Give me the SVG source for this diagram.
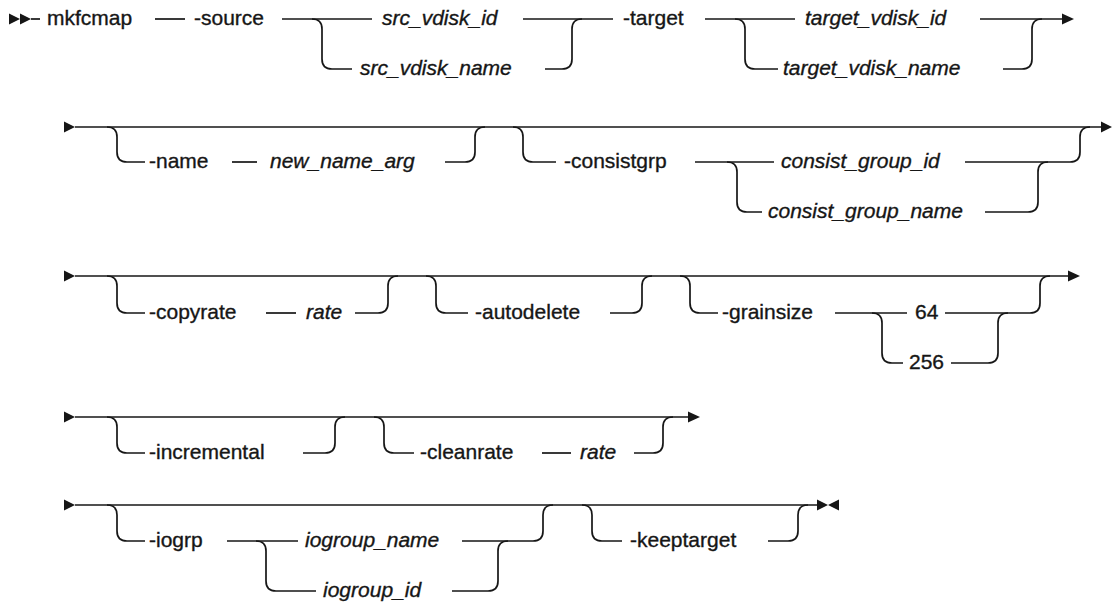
<svg xmlns="http://www.w3.org/2000/svg" width="1112" height="611" viewBox="0 0 1112 611">
<style>
  .c { fill: none; stroke: #161616; stroke-width: 1.7; }
  .a { fill: #161616; stroke: none; }
  text { font-family: "Liberation Sans", Arial, sans-serif; font-size: 21px; fill: #161616; stroke: #161616; stroke-width: 0.35; }
  .v { font-style: italic; }
</style>
<rect width="1112" height="611" fill="#ffffff"/>
<g id="connectors">
  <!-- row 1 -->
  <polygon class="a" points="9,13.5 9,24.5 20,19"/>
  <polygon class="a" points="20,13.5 20,24.5 31,19"/>
  <path class="c" d="M31 19 H40"/>
  <path class="c" d="M155 19 H185"/>
  <path class="c" d="M282 19 H372"/>
  <path class="c" d="M312 19 Q322 19 322 29 V59 Q322 69 332 69 H352"/>
  <path class="c" d="M523 19 H613"/>
  <path class="c" d="M545 69 H562 Q572 69 572 59 V29 Q572 19 582 19"/>
  <path class="c" d="M705 19 H795"/>
  <path class="c" d="M735 19 Q745 19 745 29 V59 Q745 69 755 69 H778"/>
  <path class="c" d="M980 19 H1062"/>
  <polygon class="a" points="1062,13.5 1062,24.5 1074,19"/>
  <path class="c" d="M1003 69 H1022 Q1032 69 1032 59 V29 Q1032 19 1042 19"/>
  <!-- row 2 -->
  <polygon class="a" points="64,121.5 64,132.5 75,127"/>
  <path class="c" d="M75 127 H1101"/>
  <polygon class="a" points="1101,121.5 1101,132.5 1112,127"/>
  <path class="c" d="M107 127 Q117 127 117 137 V152 Q117 162 127 162 H145"/>
  <path class="c" d="M232 162 H257"/>
  <path class="c" d="M445 162 H465 Q475 162 475 152 V137 Q475 127 485 127"/>
  <path class="c" d="M513 127 Q523 127 523 137 V152 Q523 162 533 162 H556"/>
  <path class="c" d="M695 162 H774"/>
  <path class="c" d="M727 162 Q737 162 737 172 V202 Q737 212 747 212 H762"/>
  <path class="c" d="M965 162 H1070 Q1080 162 1080 152 V137 Q1080 127 1090 127"/>
  <path class="c" d="M985 212 H1028 Q1038 212 1038 202 V172 Q1038 162 1048 162"/>
  <!-- row 3 -->
  <polygon class="a" points="64,270.5 64,281.5 75,276"/>
  <path class="c" d="M75 276 H1068"/>
  <polygon class="a" points="1068,270.5 1068,281.5 1080,276"/>
  <path class="c" d="M107 276 Q117 276 117 286 V303 Q117 313 127 313 H145"/>
  <path class="c" d="M266 313 H296"/>
  <path class="c" d="M355 313 H378 Q388 313 388 303 V286 Q388 276 398 276"/>
  <path class="c" d="M426 276 Q436 276 436 286 V303 Q436 313 446 313 H468"/>
  <path class="c" d="M610 313 H632 Q642 313 642 303 V286 Q642 276 652 276"/>
  <path class="c" d="M680 276 Q690 276 690 286 V303 Q690 313 700 313 H718"/>
  <path class="c" d="M835 313 H907"/>
  <path class="c" d="M872 313 Q882 313 882 323 V353 Q882 363 892 363 H903"/>
  <path class="c" d="M945 313 H1030 Q1040 313 1040 303 V286 Q1040 276 1050 276"/>
  <path class="c" d="M951 363 H988 Q998 363 998 353 V323 Q998 313 1008 313"/>
  <!-- row 4 -->
  <polygon class="a" points="64,411.5 64,422.5 75,417"/>
  <path class="c" d="M75 417 H688"/>
  <polygon class="a" points="688,411.5 688,422.5 700,417"/>
  <path class="c" d="M107 417 Q117 417 117 427 V443 Q117 453 127 453 H145"/>
  <path class="c" d="M303 453 H325 Q335 453 335 443 V427 Q335 417 345 417"/>
  <path class="c" d="M374 417 Q384 417 384 427 V443 Q384 453 394 453 H414"/>
  <path class="c" d="M542 453 H571"/>
  <path class="c" d="M634 453 H653 Q663 453 663 443 V427 Q663 417 673 417"/>
  <!-- row 5 -->
  <polygon class="a" points="64,499.5 64,510.5 75,505"/>
  <path class="c" d="M75 505 H817"/>
  <polygon class="a" points="817,499.5 817,510.5 828,505"/>
  <polygon class="a" points="839,499.5 839,510.5 828,505"/>
  <path class="c" d="M107 505 Q117 505 117 515 V531 Q117 541 127 541 H145"/>
  <path class="c" d="M227 541 H298"/>
  <path class="c" d="M256 541 Q266 541 266 551 V581 Q266 591 276 591 H316"/>
  <path class="c" d="M462 541 H533 Q543 541 543 531 V515 Q543 505 553 505"/>
  <path class="c" d="M452 591 H488 Q498 591 498 581 V551 Q498 541 508 541"/>
  <path class="c" d="M582 505 Q592 505 592 515 V531 Q592 541 602 541 H622"/>
  <path class="c" d="M768 541 H788 Q798 541 798 531 V515 Q798 505 808 505"/>
</g>
<g id="n-mkfcmap"><text x="47" y="25">mkfcmap</text></g>
<g id="n-source"><text x="194" y="25">-source</text></g>
<g id="n-src-id"><text class="v" x="382" y="25">src_vdisk_id</text></g>
<g id="n-src-name"><text class="v" x="360" y="75">src_vdisk_name</text></g>
<g id="n-target"><text x="623" y="25">-target</text></g>
<g id="n-target-id"><text class="v" x="805" y="25">target_vdisk_id</text></g>
<g id="n-target-name"><text class="v" x="783" y="75">target_vdisk_name</text></g>
<g id="n-name"><text x="149" y="168">-name</text></g>
<g id="n-new-name"><text class="v" x="270" y="168">new_name_arg</text></g>
<g id="n-consistgrp"><text x="564" y="168">-consistgrp</text></g>
<g id="n-consist-id"><text class="v" x="781" y="168">consist_group_id</text></g>
<g id="n-consist-name"><text class="v" x="768" y="218">consist_group_name</text></g>
<g id="n-copyrate"><text x="149" y="319">-copyrate</text></g>
<g id="n-copyrate-rate"><text class="v" x="306" y="319">rate</text></g>
<g id="n-autodelete"><text x="475" y="319">-autodelete</text></g>
<g id="n-grainsize"><text x="722" y="319">-grainsize</text></g>
<g id="n-64"><text x="915" y="319">64</text></g>
<g id="n-256"><text x="909" y="369">256</text></g>
<g id="n-incremental"><text x="149" y="459">-incremental</text></g>
<g id="n-cleanrate"><text x="420" y="459">-cleanrate</text></g>
<g id="n-cleanrate-rate"><text class="v" x="580" y="459">rate</text></g>
<g id="n-iogrp"><text x="149" y="547">-iogrp</text></g>
<g id="n-iogroup-name"><text class="v" x="305" y="547">iogroup_name</text></g>
<g id="n-iogroup-id"><text class="v" x="323" y="597">iogroup_id</text></g>
<g id="n-keeptarget"><text x="630" y="547">-keeptarget</text></g>
</svg>
